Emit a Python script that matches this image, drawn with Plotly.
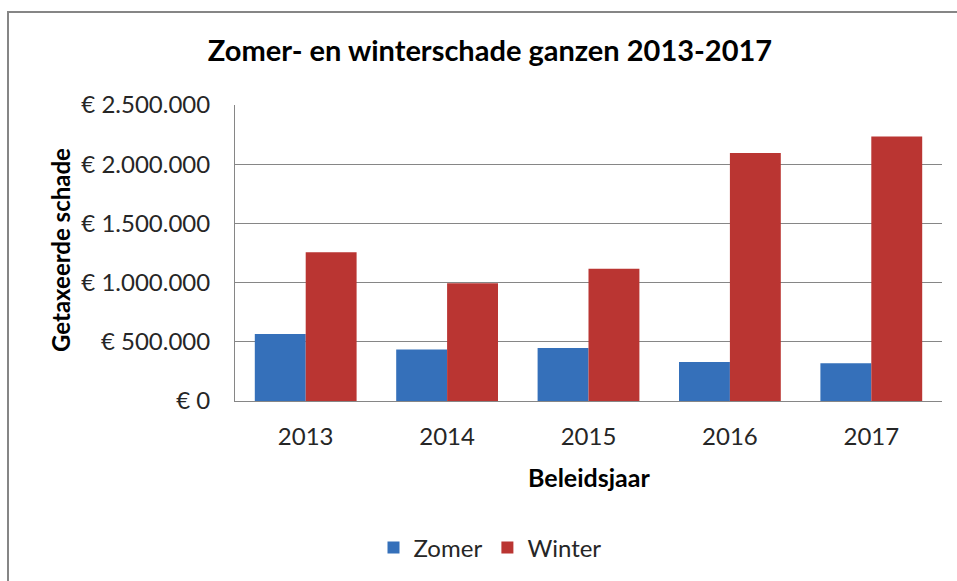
import plotly.graph_objects as go

years = ["2013", "2014", "2015", "2016", "2017"]
zomer = [565000, 436000, 447000, 329000, 318000]
winter = [1257000, 995000, 1116000, 2095000, 2233000]
tick_vals = [0, 500000, 1000000, 1500000, 2000000, 2500000]
tick_text = ["€ 0", "€ 500.000", "€ 1.000.000", "€ 1.500.000", "€ 2.000.000", "€ 2.500.000"]

W, H = 957, 581
L, R, T, B = 235, 942, 105, 401  # plot area pixels


def px(x):
    return (x - L) / (R - L)


def py(y):
    return (B - y) / (B - T)


FONT = "Lato"
fig = go.Figure()
fig.add_trace(go.Bar(name="Zomer", x=years, y=zomer, marker=dict(color="#3570BA", line=dict(width=0))))
fig.add_trace(go.Bar(name="Winter", x=years, y=winter, marker=dict(color="#BA3532", line=dict(width=0))))

fig.update_layout(
    width=W, height=H,
    margin=dict(l=L, r=W - R, t=T, b=H - B, autoexpand=False),
    paper_bgcolor="white", plot_bgcolor="white",
    barmode="group", bargap=0.28, bargroupgap=0,
    font=dict(family=FONT, size=24, color="#262626"),
    title=dict(text="<b>Zomer- en winterschade ganzen 2013-2017</b>",
               x=490 / W, xanchor="center", xref="container",
               y=1 - 51 / H, yanchor="middle", yref="container",
               font=dict(family=FONT, size=29, color="#000000")),
    showlegend=True,
    legend=dict(orientation="h", x=px(490), xanchor="center", y=py(548), yanchor="middle",
                font=dict(family=FONT, size=24, color="#262626"), itemwidth=30,
                traceorder="normal"),
    xaxis=dict(showline=True, linecolor="#868686", linewidth=1, ticks="", showgrid=False,
               tickfont=dict(size=24), automargin=False, ticklabelstandoff=14),
    yaxis=dict(range=[0, 2500000], tickvals=tick_vals, ticktext=tick_text, showline=True,
               linecolor="#868686", linewidth=1, gridcolor="#868686", gridwidth=1, ticks="",
               tickfont=dict(size=24), automargin=False, ticklabelstandoff=19, zeroline=False),
    shapes=[dict(type="rect", xref="paper", yref="paper", x0=px(8), x1=px(980), y0=py(600), y1=py(12),
                 line=dict(color="#868686", width=2), fillcolor="rgba(0,0,0,0)", layer="above")],
    annotations=[
        dict(text="<b>Beleidsjaar</b>", xref="paper", yref="paper", x=px(589), y=py(477),
             xanchor="center", yanchor="middle", showarrow=False,
             font=dict(family=FONT, size=25, color="#000000")),
        dict(text="<b>Getaxeerde schade</b>", xref="paper", yref="paper", x=px(60), y=py(250),
             xanchor="center", yanchor="middle", showarrow=False, textangle=-90,
             font=dict(family=FONT, size=24, color="#000000")),
    ],
)

fig.write_html("out.html", config={"displayModeBar": False},
               post_script="document.body.style.margin='0';document.body.style.overflow='hidden';")
